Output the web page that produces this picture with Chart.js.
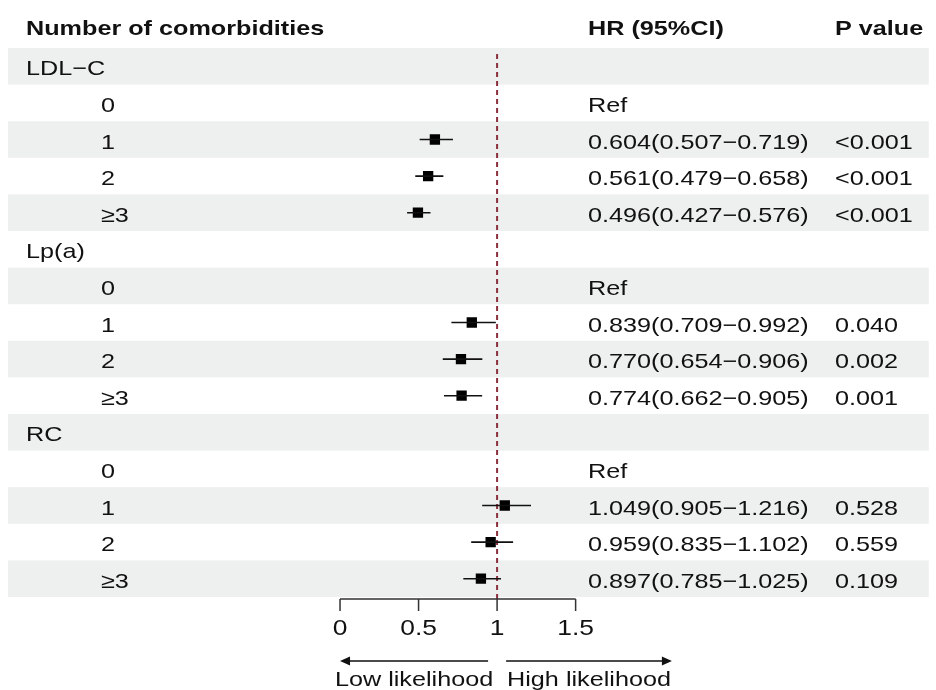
<!DOCTYPE html>
<html>
<head>
<meta charset="utf-8">
<title>Forest plot</title>
<script src="https://cdn.jsdelivr.net/npm/chart.js"></script>
<style>
  html, body { margin: 0; padding: 0; background: #fff; }
</style>
</head>
<body>
<canvas id="forest" width="936" height="690"></canvas>
<script>
// data
const groups = ['LDL−C', 'Lp(a)', 'RC'];
const levels = ['0', '1', '2', '≥3'];
const hr     = [null, 0.604, 0.561, 0.496, null, 0.839, 0.770, 0.774, null, 1.049, 0.959, 0.897];
const lower  = [null, 0.507, 0.479, 0.427, null, 0.709, 0.654, 0.662, null, 0.905, 0.835, 0.785];
const upper  = [null, 0.719, 0.658, 0.576, null, 0.992, 0.906, 0.905, null, 1.216, 1.102, 1.025];
const pValues = ['', '<0.001', '<0.001', '<0.001', '', '0.040', '0.002', '0.001', '', '0.528', '0.559', '0.109'];
const xTicks = [0, 0.5, 1, 1.5];

// one row per group header plus one per level
const rows = [];
groups.forEach((g, gi) => {
    rows.push({ label: g, header: true });
    levels.forEach((lv, li) => {
        const k = gi * levels.length + li;
        rows.push({ label: lv, header: false, k: k });
    });
});

const ciData = [];
const pointData = [];
rows.forEach((r, i) => {
    if (r.header || hr[r.k] === null) return;
    ciData.push({ x: lower[r.k], y: i }, { x: upper[r.k], y: i }, { x: null, y: null });
    pointData.push({ x: hr[r.k], y: i });
});

const FONT = '"Liberation Sans", Arial, Helvetica, sans-serif';
const SX = 1.2; // text in the figure is stretched horizontally

function text(ctx, s, x, y, size, bold, align) {
    ctx.save();
    ctx.font = (bold ? 'bold ' : '') + size + 'px ' + FONT;
    ctx.fillStyle = '#111';
    ctx.textBaseline = 'alphabetic';
    ctx.textAlign = align || 'left';
    ctx.translate(x, y);
    ctx.scale(SX, 1);
    ctx.fillText(s, 0, 0);
    ctx.restore();
}

const forestPlugin = {
    id: 'forest',
    beforeDatasetsDraw(chart) {
        const { ctx, chartArea, scales: { x, y } } = chart;
        // shaded bands on alternate rows
        ctx.save();
        ctx.fillStyle = '#edf0ef';
        rows.forEach((r, i) => {
            if (i % 2 !== 0) return;
            const top = y.getPixelForValue(i - 0.5);
            const bot = y.getPixelForValue(i + 0.5);
            ctx.fillRect(chartArea.left, top, chartArea.right - chartArea.left, bot - top);
        });
        ctx.restore();
        // reference line at HR = 1
        const x1 = x.getPixelForValue(1);
        ctx.save();
        ctx.strokeStyle = '#8a2f3c';
        ctx.lineWidth = 2;
        ctx.setLineDash([5, 4]);
        ctx.beginPath();
        ctx.moveTo(x1, chartArea.top + 6);
        ctx.lineTo(x1, chartArea.bottom + 2);
        ctx.stroke();
        ctx.restore();
    },
    afterDraw(chart) {
        const { ctx, chartArea, scales: { x, y } } = chart;
        // column headers
        text(ctx, 'Number of comorbidities', 26, 35, 21, true);
        text(ctx, 'HR (95%CI)', 588, 35, 21, true);
        text(ctx, 'P value', 835, 35, 21, true);
        // row labels and table columns
        rows.forEach((r, i) => {
            const base = y.getPixelForValue(i) + 9;
            if (r.header) {
                text(ctx, r.label, 26, base, 21, false);
                return;
            }
            text(ctx, r.label, 101, base, 21, false);
            const k = r.k;
            const hrText = hr[k] === null ? 'Ref'
                : hr[k].toFixed(3) + '(' + lower[k].toFixed(3) + '−' + upper[k].toFixed(3) + ')';
            text(ctx, hrText, 588, base, 21, false);
            if (pValues[k]) text(ctx, pValues[k], 835, base, 21, false);
        });
        // x axis
        const axisY = chartArea.bottom + 2;
        const x0 = x.getPixelForValue(xTicks[0]);
        const xN = x.getPixelForValue(xTicks[xTicks.length - 1]);
        ctx.save();
        ctx.strokeStyle = '#333';
        ctx.lineWidth = 1.5;
        ctx.beginPath();
        ctx.moveTo(x0, axisY);
        ctx.lineTo(xN, axisY);
        xTicks.forEach(t => {
            const px = x.getPixelForValue(t);
            ctx.moveTo(px, axisY);
            ctx.lineTo(px, axisY + 12);
        });
        ctx.stroke();
        ctx.restore();
        xTicks.forEach(t => text(ctx, String(t), x.getPixelForValue(t), 635, 22, false, 'center'));
        // direction arrows
        const xr = x.getPixelForValue(1);
        const ay = 661;
        const leftEnd = x.getPixelForValue(0);
        const rightEnd = x.getPixelForValue(2.113);
        ctx.save();
        ctx.strokeStyle = '#111';
        ctx.fillStyle = '#111';
        ctx.lineWidth = 1.5;
        ctx.beginPath();
        ctx.moveTo(xr - 9, ay);
        ctx.lineTo(leftEnd + 8, ay);
        ctx.moveTo(xr + 9, ay);
        ctx.lineTo(rightEnd - 8, ay);
        ctx.stroke();
        ctx.beginPath();
        ctx.moveTo(leftEnd, ay);
        ctx.lineTo(leftEnd + 10, ay - 4.5);
        ctx.lineTo(leftEnd + 10, ay + 4.5);
        ctx.closePath();
        ctx.moveTo(rightEnd, ay);
        ctx.lineTo(rightEnd - 10, ay - 4.5);
        ctx.lineTo(rightEnd - 10, ay + 4.5);
        ctx.closePath();
        ctx.fill();
        ctx.restore();
        text(ctx, 'Low likelihood', (leftEnd + xr - 9) / 2, 686, 21, false, 'center');
        text(ctx, 'High likelihood', (xr + 9 + rightEnd) / 2, 686, 21, false, 'center');
    }
};

new Chart(document.getElementById('forest'), {
    type: 'scatter',
    data: {
        datasets: [{
            label: '95% CI',
            data: ciData,
            showLine: true,
            spanGaps: false,
            borderColor: '#111',
            borderWidth: 1.6,
            pointRadius: 0,
            pointHoverRadius: 0
        }, {
            label: 'HR',
            data: pointData,
            pointStyle: 'rect',
            pointRadius: 7.3,
            backgroundColor: '#000',
            borderColor: '#000',
            borderWidth: 0
        }]
    },
    options: {
        responsive: false,
        animation: false,
        devicePixelRatio: 1,
        layout: { padding: { left: 8, right: 6, top: 48, bottom: 93 } },
        plugins: {
            legend: { display: false },
            tooltip: { enabled: false }
        },
        scales: {
            x: { type: 'linear', min: -2.114, max: 3.748, display: false },
            y: { type: 'linear', min: -0.5, max: rows.length - 0.5, reverse: true, display: false }
        }
    },
    plugins: [forestPlugin]
});
</script>
</body>
</html>
